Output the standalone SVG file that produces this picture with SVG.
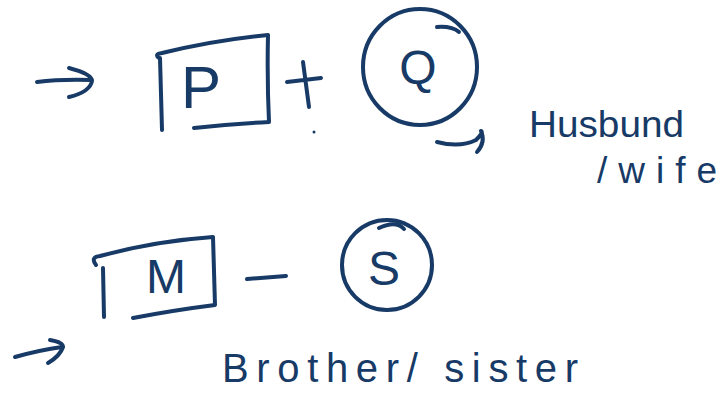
<svg xmlns="http://www.w3.org/2000/svg" width="728" height="395" viewBox="0 0 728 395">
<style>
.ink{fill:none;stroke:#173a66;stroke-width:4;stroke-linecap:round;stroke-linejoin:round}
.lbl{fill:#173a66;font-family:"Liberation Sans",Arial,sans-serif}
</style>
<rect width="728" height="395" fill="#ffffff"/>
<g id="connectors">
<path class="ink" d="M37,82 Q60,79 92,80 M69,68 Q92,74 92,81 Q90,92 69,97"/>
<path class="ink" d="M287,82 L321,78 M303,62 L309,107"/>
<circle cx="314" cy="132" r="1.5" fill="#173a66"/>
<path class="ink" d="M437,142 Q460,148 476,140 Q484,132 481,131 Q486,142 477,152"/>
<path class="ink" d="M247,279 L286,276"/>
<path class="ink" d="M15,357 Q40,350 62,347 M50,340 Q63,342 63,347 Q60,356 48,363"/>
</g>
<g id="node-p">
<path class="ink" d="M159,58 Q154,54 162,53 Q215,40 268,35 Q267,80 269,122 Q230,124 194,128 M160,58 L162,130"/>
<text class="lbl" x="201" y="108" font-size="60" text-anchor="middle">P</text>
</g>
<g id="node-q">
<ellipse class="ink" cx="420" cy="67" rx="57" ry="58"/>
<path class="ink" d="M437,27 Q452,26 459,32"/>
<text class="lbl" x="418" y="84" font-size="48" text-anchor="middle">Q</text>
</g>
<g id="node-m">
<path class="ink" d="M96,265 Q90,257 100,256 Q155,241 213,237 Q214,272 215,305 Q175,310 133,318 M103,268 L104,317"/>
<text class="lbl" x="166" y="293" font-size="48" text-anchor="middle">M</text>
</g>
<g id="node-s">
<ellipse class="ink" cx="387" cy="265" rx="45" ry="45"/>
<path class="ink" d="M379,228 Q396,220 404,229"/>
<text class="lbl" x="384" y="285" font-size="48" text-anchor="middle">S</text>
</g>
<g id="labels">
<text class="lbl" x="529" y="137" font-size="37" textLength="155" lengthAdjust="spacingAndGlyphs">Husbund</text>
<text class="lbl" x="597" y="183" font-size="37" textLength="120" lengthAdjust="spacing">/wife</text>
<text class="lbl" x="222" y="382" font-size="40" textLength="356" lengthAdjust="spacing">Brother/ sister</text>
</g>
</svg>
